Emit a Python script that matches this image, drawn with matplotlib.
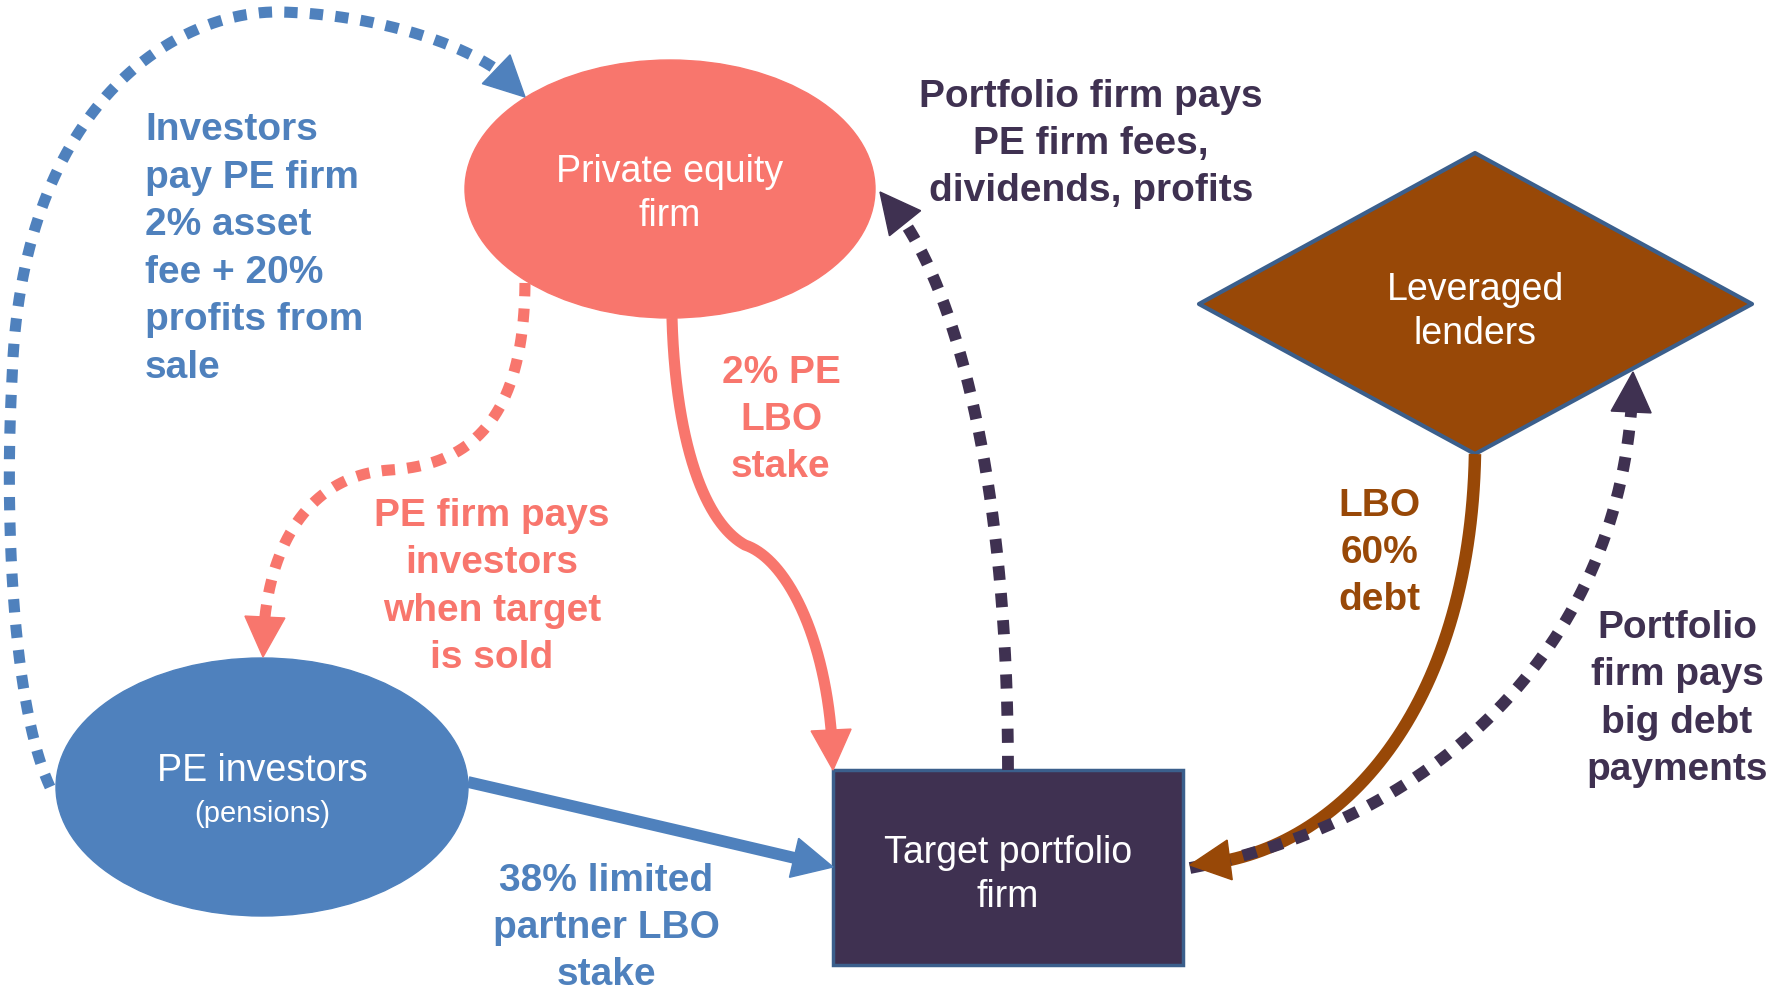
import matplotlib.pyplot as plt
import numpy as np
from matplotlib.patches import Ellipse, Rectangle, Polygon

BLUE = "#4f81bd"
SALMON = "#f8766d"
PURPLE = "#3f3151"
BROWN = "#984807"
EDGE = "#3b5f8c"
BOLD_FONT = ["Liberation Sans Narrow", "Liberation Sans", "DejaVu Sans"]
NODE_FONT = ["Liberation Sans", "DejaVu Sans"]

# node geometry, in pixels of the original drawing (y runs downward)
pe_firm = (670, 189, 410, 258)        # centre x, centre y, width, height
investors = (262, 787, 412, 258)
target_box = (833, 770, 350, 195)     # left, top, width, height
lenders = [(1475, 153), (1752, 304), (1475, 454), (1199, 304)]

# flows: cubic bezier points (start, c1, c2, end, c1, c2, end ...)
fees_loop = [(50, 787), (10, 700), (5, 500), (12, 380),
             (20, 100), (180, 10), (280, 12),
             (380, 14), (495, 50), (525, 97)]
payout = [(525, 283), (524, 420), (470, 465), (390, 470),
          (300, 476), (262, 560), (263, 657)]
pe_stake = [(672, 318), (675, 430), (700, 520), (745, 545),
            (790, 560), (832, 650), (833, 770)]
lp_stake = [(468, 782), (590, 810), (710, 838), (833, 867)]
pe_fees = [(1008, 770), (1008, 450), (945, 255), (880, 192)]
debt = [(1475, 454), (1470, 720), (1330, 860), (1190, 865)]
debt_pay = [(1190, 868), (1440, 820), (1630, 640), (1633, 372)]

flows = [
    (fees_loop, BLUE, True, 8.0),
    (payout, SALMON, True, 8.0),
    (pe_stake, SALMON, False, 8.0),
    (lp_stake, BLUE, False, 8.5),
    (pe_fees, PURPLE, True, 8.5),
    (debt, BROWN, False, 9.0),
    (debt_pay, PURPLE, True, 8.5),
]

labels = [
    ("Investors\npay PE firm\n2% asset\nfee + 20%\nprofits from\nsale", 145, 249, BLUE, "left"),
    ("Portfolio firm pays\nPE firm fees,\ndividends, profits", 1091, 144, PURPLE, "center"),
    ("2% PE\nLBO\nstake", 781, 420, SALMON, "center"),
    ("PE firm pays\ninvestors\nwhen target\nis sold", 492, 587, SALMON, "center"),
    ("LBO\n60%\ndebt", 1379, 553, BROWN, "center"),
    ("Portfolio\nfirm pays\nbig debt\npayments", 1677, 699, PURPLE, "center"),
    ("38% limited\npartner LBO\nstake", 606, 928, BLUE, "center"),
]


def bezier(points, n=200):
    pts = np.array(points, dtype=float)
    out = [pts[:1]]
    t = np.linspace(0, 1, n)[1:, None]
    for i in range(0, len(pts) - 1, 3):
        p0, p1, p2, p3 = pts[i:i + 4]
        seg = ((1 - t) ** 3 * p0 + 3 * (1 - t) ** 2 * t * p1
               + 3 * (1 - t) * t ** 2 * p2 + t ** 3 * p3)
        out.append(seg)
    return np.vstack(out)


fig = plt.figure(figsize=(17.73, 9.96), dpi=100)
ax = fig.add_axes([0, 0, 1, 1])
ax.set_xlim(0, 1773)
ax.set_ylim(996, 0)
ax.axis("off")

ax.add_patch(Ellipse(pe_firm[:2], pe_firm[2], pe_firm[3], color=SALMON, zorder=1))
ax.add_patch(Ellipse(investors[:2], investors[2], investors[3], color=BLUE, zorder=1))
ax.add_patch(Rectangle(target_box[:2], target_box[2], target_box[3],
                       facecolor=PURPLE, edgecolor=EDGE, lw=2.5, zorder=1))
ax.add_patch(Polygon(lenders, closed=True, facecolor=BROWN, edgecolor=EDGE,
                     lw=3, joinstyle="round", zorder=1))

head_len, head_w = 40, 20
for points, color, dashed, lw in flows:
    xy = bezier(points)
    seg = np.hypot(*np.diff(xy, axis=0).T)
    dist_to_end = np.concatenate([np.cumsum(seg[::-1])[::-1], [0]])
    tip = xy[-1]
    base_idx = np.argmin(np.abs(dist_to_end - head_len))
    d = tip - xy[base_idx]
    d = d / np.hypot(*d)
    nrm = np.array([-d[1], d[0]])
    base = tip - head_len * d
    keep = dist_to_end >= head_len * 0.7
    ls = (0, (1.2, 1.1)) if dashed else "-"
    ax.plot(xy[keep, 0], xy[keep, 1], color=color, lw=lw, ls=ls,
            dash_capstyle="butt", solid_capstyle="butt", zorder=2)
    ax.add_patch(Polygon([tip, base + head_w * nrm, base - head_w * nrm],
                         closed=True, color=color, zorder=3))

for text, x, y, color, ha in labels:
    ax.text(x, y, text, color=color, ha=ha, va="center", multialignment=ha,
            fontsize=28, fontweight="bold", family=BOLD_FONT,
            linespacing=1.41, zorder=4)

ax.text(670, 194, "Private equity\nfirm", color="white", ha="center", va="center",
        fontsize=27, family=NODE_FONT, linespacing=1.3, zorder=4)
ax.text(262, 771, "PE investors", color="white", ha="center", va="center",
        fontsize=27, family=NODE_FONT, zorder=4)
ax.text(262, 814, "(pensions)", color="white", ha="center", va="center",
        fontsize=21, family=NODE_FONT, zorder=4)
ax.text(1008, 875, "Target portfolio\nfirm", color="white", ha="center", va="center",
        fontsize=27, family=NODE_FONT, linespacing=1.3, zorder=4)
ax.text(1475, 312, "Leveraged\nlenders", color="white", ha="center", va="center",
        fontsize=27, family=NODE_FONT, linespacing=1.3, zorder=4)

plt.savefig("out.png", dpi=100)
